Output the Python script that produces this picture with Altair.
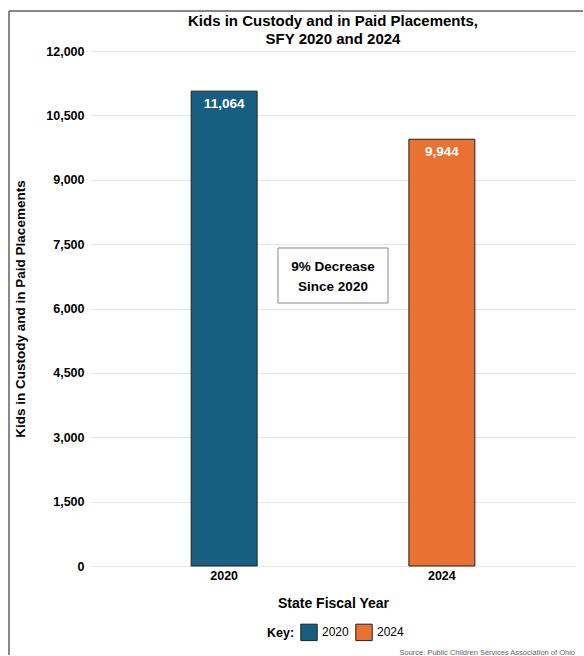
import altair as alt
import pandas as pd

years = ["2020", "2024"]
kids = [11064, 9944]
colors = ["#175f80", "#e97132"]
ticks = [0, 1500, 3000, 4500, 6000, 7500, 9000, 10500, 12000]
title_lines = ["Kids in Custody and in Paid Placements,", "SFY 2020 and 2024"]
note_lines = ["9% Decrease", "Since 2020"]
note_values = [6967, 6501]
box_range = [6128, 7410]

W, H = 484, 515
FONT = "Liberation Sans"

df = pd.DataFrame({"year": years, "kids": kids})

x = alt.X("year:N", title="State Fiscal Year",
          scale=alt.Scale(paddingInner=0.697, paddingOuter=0.46),
          axis=alt.Axis(labelAngle=0, labelFontWeight="bold", labelFontSize=12.5,
                        labelColor="black", titleFontSize=14, titleFontWeight="bold",
                        titlePadding=15, ticks=False, domain=False, labelPadding=3))
y = alt.Y("kids:Q", title="Kids in Custody and in Paid Placements",
          scale=alt.Scale(domain=[0, 12000]),
          axis=alt.Axis(values=ticks, format=",d", labelFontWeight="bold", labelFontSize=12.5,
                        labelColor="black", titleFontSize=13.5, titleFontWeight="bold",
                        titlePadding=18, ticks=False, domain=False, labelPadding=7,
                        gridColor="#e6e6e6"))

bars = alt.Chart(df).mark_bar(stroke="#222222", strokeWidth=1).encode(
    x=x, y=y,
    color=alt.Color("year:N", scale=alt.Scale(domain=years, range=colors),
                    legend=alt.Legend(title="Key:", orient="none", direction="horizontal",
                                      titleOrient="left", legendX=176, legendY=572,
                                      symbolType="square", symbolSize=270,
                                      symbolStrokeColor="#222222", symbolStrokeWidth=1,
                                      symbolOpacity=1, labelFontSize=12, labelColor="black",
                                      titleFontSize=12.5, titleFontWeight="bold",
                                      titleColor="black", columnPadding=4, labelOffset=4,
                                      titlePadding=5))
)

labels = alt.Chart(df).mark_text(color="white", fontWeight="bold", fontSize=13.5,
                                 baseline="top", dy=6, font=FONT).encode(
    x="year:N", y="kids:Q", text=alt.Text("kids:Q", format=",d")
)

box_df = pd.DataFrame({"lo": [box_range[0]], "hi": [box_range[1]]})
box = alt.Chart(box_df).mark_rect(fill="white", stroke="#888888", strokeWidth=1).encode(
    x=alt.value(W / 2 - 55), x2=alt.value(W / 2 + 55),
    y="lo:Q", y2="hi:Q"
)

note_df = pd.DataFrame({"line": note_lines, "v": note_values})
note = alt.Chart(note_df).mark_text(fontWeight="bold", fontSize=13.5, color="black",
                                    font=FONT).encode(
    x=alt.value(W / 2), y="v:Q", text="line:N"
)

t1 = alt.Chart(pd.DataFrame({"t": [title_lines[0]]})).mark_text(
    fontWeight="bold", fontSize=15, color="black", font=FONT).encode(
    x=alt.value(W / 2), y=alt.value(-30), text="t:N")
t2 = alt.Chart(pd.DataFrame({"t": [title_lines[1]]})).mark_text(
    fontWeight="bold", fontSize=15, color="black", font=FONT).encode(
    x=alt.value(W / 2), y=alt.value(-12), text="t:N")

src = alt.Chart(pd.DataFrame({"t": ["Source: Public Children Services Association of Ohio"]})).mark_text(
    align="right", fontSize=7.5, color="#666666", font=FONT).encode(
    x=alt.value(W), y=alt.value(H + 87), text="t:N"
)

border = alt.Chart(pd.DataFrame({"a": [0]})).mark_rule(color="#888888", strokeWidth=2).encode(
    x=alt.value(-82), x2=alt.value(W + 8), y=alt.value(-40)
)
border2 = alt.Chart(pd.DataFrame({"a": [0]})).mark_rule(color="#888888", strokeWidth=2).encode(
    x=alt.value(-82), y=alt.value(-40), y2=alt.value(H + 89)
)

chart = alt.layer(bars, labels, box, note, t1, t2, src, border, border2).properties(
    width=W, height=H,
    padding={"left": 8, "top": 10, "right": 0, "bottom": 0}
).configure(font=FONT).configure_view(stroke=None).configure_axis(
    labelFont=FONT, titleFont=FONT, titleColor="black")

chart.save("out.html", embed_options={"renderer": "svg", "actions": False})
